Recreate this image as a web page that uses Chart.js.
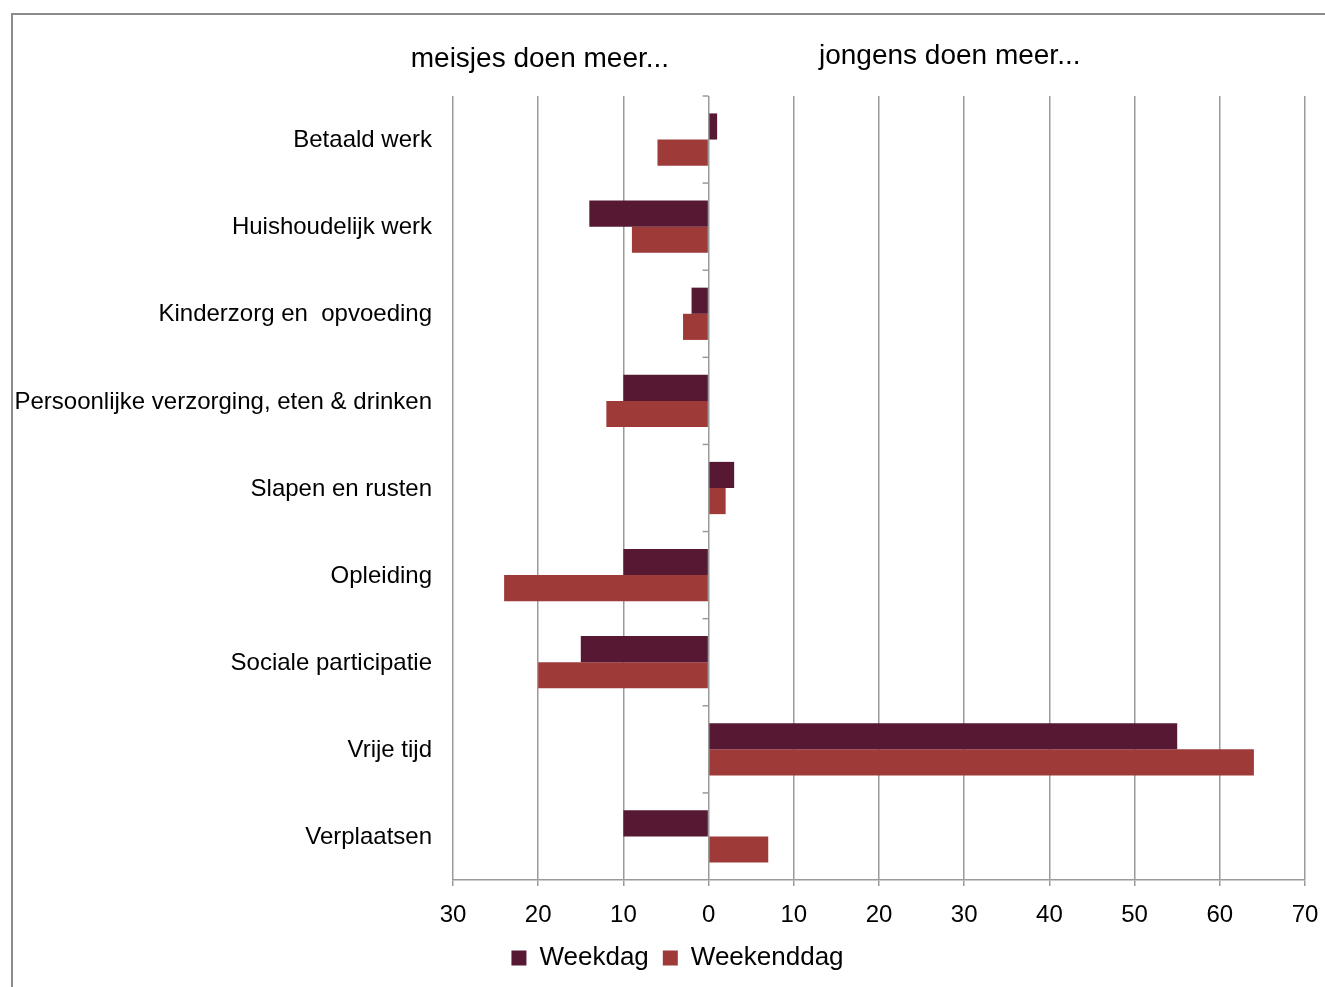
<!DOCTYPE html>
<html>
<head>
<meta charset="utf-8">
<title>Tijdsbesteding jongens en meisjes</title>
<script src="https://cdn.jsdelivr.net/npm/chart.js@4.4.1/dist/chart.umd.min.js"></script>
<style>
    html, body { margin: 0; padding: 0; background: #fff; overflow: hidden; }
    #frame {
        position: absolute; left: 11px; top: 13px;
        width: 1400px; height: 1100px;
        border: 2px solid #8c8c8c;
    }
    #wrap { position: absolute; left: 0; top: 0; width: 1325px; height: 987px; }
</style>
</head>
<body>
<div id="frame"></div>
<div id="wrap"><canvas id="chart"></canvas></div>
<script>
// categories top to bottom
const categories = [
    'Betaald werk',
    'Huishoudelijk werk',
    'Kinderzorg en  opvoeding',
    'Persoonlijke verzorging, eten & drinken',
    'Slapen en rusten',
    'Opleiding',
    'Sociale participatie',
    'Vrije tijd',
    'Verplaatsen'
];

// negative = meisjes doen meer, positive = jongens doen meer
const weekdag    = [1, -14, -2, -10, 3, -10, -15, 55, -10];
const weekenddag = [-6, -9, -3, -12, 2, -24, -20, 64, 7];

const seriesNames = ['Weekdag', 'Weekenddag'];
const sideTitles = ['meisjes doen meer...', 'jongens doen meer...'];

const xMin = -30;
const xMax = 70;
const xStep = 10;

const FONT = "'Liberation Sans', Arial, sans-serif";
const GRID = '#9a9a9a';

// side headings + small tick marks on the zero axis
const extras = {
    id: 'extras',
    afterLayout(chart) {
        // legend sits a bit right of centre in the original
        chart.legend.left += 25;
        chart.legend.right += 25;
    },
    afterDatasetsDraw(chart) {
        const { ctx, chartArea, scales } = chart;
        const x0 = scales.x.getPixelForValue(0);
        const y = scales.y;

        ctx.save();
        ctx.strokeStyle = GRID;
        ctx.lineWidth = 1.5;
        const bounds = [chartArea.top];
        for (let i = 0; i < categories.length - 1; i++) {
            bounds.push((y.getPixelForValue(i) + y.getPixelForValue(i + 1)) / 2);
        }
        bounds.forEach(b => {
            ctx.beginPath();
            ctx.moveTo(x0 - 6, b);
            ctx.lineTo(x0, b);
            ctx.stroke();
        });

        ctx.fillStyle = '#000';
        ctx.font = '28px ' + FONT;
        ctx.textAlign = 'center';
        ctx.textBaseline = 'middle';
        ctx.fillText(sideTitles[0], scales.x.getPixelForValue(-19.8), 59);
        ctx.fillText(sideTitles[1], scales.x.getPixelForValue(28.3), 56);
        ctx.restore();
    }
};

new Chart(document.getElementById('chart'), {
    type: 'bar',
    data: {
        labels: categories,
        datasets: [
            { label: seriesNames[0], data: weekdag, backgroundColor: '#561832' },
            { label: seriesNames[1], data: weekenddag, backgroundColor: '#9e3a38' }
        ]
    },
    options: {
        indexAxis: 'y',
        responsive: true,
        maintainAspectRatio: false,
        animation: false,
        datasets: { bar: { categoryPercentage: 0.6, barPercentage: 1.0 } },
        layout: { padding: { top: 96, right: 20, left: 0, bottom: 6 } },
        scales: {
            x: {
                min: xMin,
                max: xMax,
                grid: { color: GRID, lineWidth: 1.5, drawTicks: true, tickLength: 6 },
                border: { display: true, color: GRID, width: 1.5 },
                ticks: {
                    stepSize: xStep,
                    color: '#000',
                    padding: 15,
                    font: { family: FONT, size: 24 },
                    callback: v => Math.abs(v)
                },
                afterFit(scale) {
                    scale.height = 51;
                    scale.paddingLeft = 0;
                    scale.paddingRight = 12;
                }
            },
            y: {
                grid: { display: false, drawTicks: false },
                border: { display: false },
                ticks: {
                    color: '#000',
                    padding: 21,
                    labelOffset: 1,
                    font: { family: FONT, size: 24 }
                },
                afterFit(scale) { scale.width = 453; }
            }
        },
        plugins: {
            legend: {
                position: 'bottom',
                labels: {
                    color: '#000',
                    boxWidth: 15,
                    boxHeight: 15,
                    padding: 14,
                    font: { family: FONT, size: 26 }
                }
            },
            tooltip: { enabled: false }
        }
    },
    plugins: [extras]
});
</script>
</body>
</html>
